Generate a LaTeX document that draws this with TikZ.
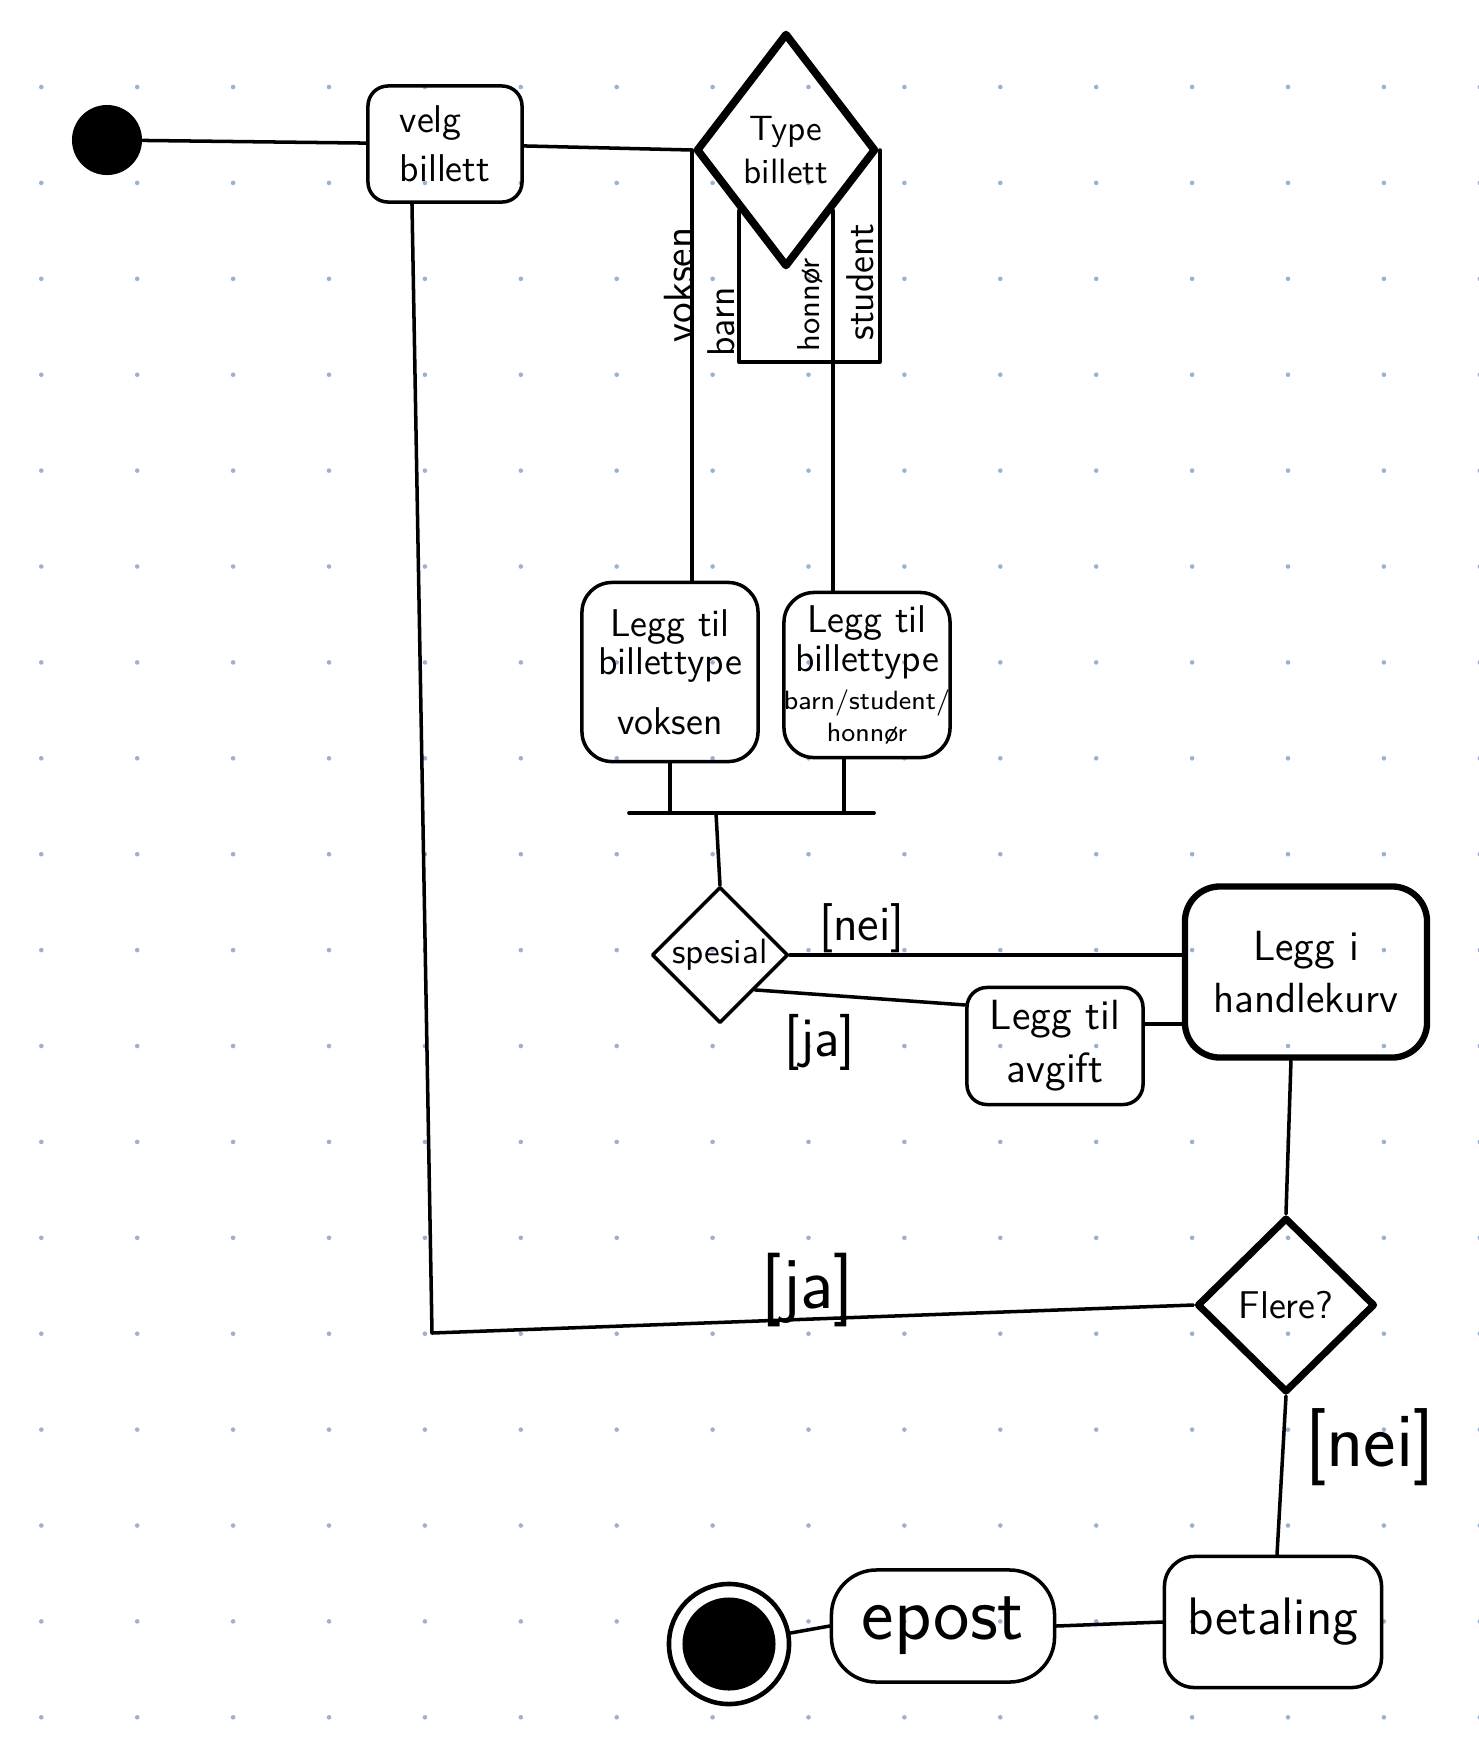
\documentclass[tikz,border=0pt]{standalone}
\usepackage{amsmath}
\usepackage{xcolor}
\usepackage{tikz}
\usetikzlibrary{shapes.geometric}
\definecolor{griddot}{HTML}{9DB0D3}
\newcommand{\handsz}[2]{\sffamily\fontsize{#1}{#2}\selectfont}

\begin{document}
\begin{tikzpicture}[x=0.01cm,y=-0.01cm,line cap=round,line join=round,
  flow/.style={line width=1pt},
  startdot/.style={circle,fill=black,minimum size=0.70cm,inner sep=0pt},
  enddot/.style={circle,draw,line width=1.3pt,minimum size=1.2cm,inner sep=0pt},
  act/.style={draw,line width=1pt,rounded corners=0.2cm,align=center,inner sep=0pt},
  bigact/.style={act,line width=1.8pt,rounded corners=0.35cm},
  choice/.style={diamond,draw,line width=1pt,inner sep=0pt,align=center},
  bigchoice/.style={choice,line width=2.2pt},
  branch/.style={rotate=90,inner sep=1pt},
  guard/.style={inner sep=1pt}]
% paper with dot grid
  \fill[white] (0,0) rectangle (1479,1756);
  \useasboundingbox (0,0) rectangle (1479,1756);
  \foreach \i in {0,...,15} {
    \foreach \j in {0,...,17} {
      \fill[griddot] (41.3+95.9*\i,87+95.9*\j) circle[radius=0.023cm];
    }
  }
% activities and choices
  \node[startdot] (start) at (107,140) {};
  \node[act,align=left,minimum width=1.54cm,minimum height=1.16cm,font=\handsz{11}{14}] (velg) at (445,144) {velg\\billett};
  \node[bigchoice,minimum width=1.80cm,minimum height=2.34cm,font=\handsz{10}{12}] (type) at (786,150) {Type\\billett};
  \node[act,rounded corners=0.3cm,minimum width=1.76cm,minimum height=1.79cm,font=\handsz{11}{11}] (vok) at (670,672) {Legg til\\billettype\\[6pt]voksen};
  \node[act,rounded corners=0.3cm,minimum width=1.66cm,minimum height=1.65cm,font=\handsz{11}{11}] (hon) at (867,675)
    {Legg til\\billettype\\{\handsz{7.5}{9}barn/student/}\\[-2pt]{\handsz{7.5}{9}honnør}};
  \node[choice,minimum width=1.36cm,minimum height=1.36cm,font=\handsz{10}{12}] (spes) at (720,955) {spesial};
  \node[act,minimum width=1.76cm,minimum height=1.17cm,font=\handsz{12}{15}] (avg) at (1055,1046) {Legg til\\avgift};
  \node[bigact,minimum width=2.42cm,minimum height=1.71cm,font=\handsz{12}{15}] (kurv) at (1306,972) {Legg i\\handlekurv};
  \node[bigchoice,line width=2pt,minimum width=1.78cm,minimum height=1.75cm,font=\handsz{11}{13}] (flere) at (1286,1305) {Flere?};
  \node[act,rounded corners=0.3cm,minimum width=2.17cm,minimum height=1.31cm,font=\handsz{15}{18}] (bet) at (1273,1622) {betaling};
  \node[act,rounded corners=0.45cm,minimum width=2.23cm,minimum height=1.12cm,font=\handsz{22}{24}] (epost) at (943,1626) {epost};
  \node[enddot] (stop) at (729,1644) {};
  \fill (stop.center) circle[radius=0.465cm];
% branch labels
  \node[branch,font=\handsz{12}{12}] (lvoksen) at (679,285) {voksen};
  \node[branch,font=\handsz{11}{11}] (lbarn) at (721,322) {barn};
  \node[branch,font=\handsz{9}{9}] (lhonnor) at (810,305) {honnør};
  \node[branch,font=\handsz{11}{11}] (lstudent) at (860,282) {student};
  \node[guard,font=\handsz{14}{14}] (neiA) at (862,928) {[nei]};
  \node[guard,font=\handsz{16}{16}] (jaA) at (820,1042) {[ja]};
  \node[guard,font=\handsz{21}{21}] (jaB) at (808,1290) {[ja]};
  \node[guard,font=\handsz{22}{22}] (neiB) at (1370,1447) {[nei]};
% connectors
  \coordinate (bar) at (716,813);
  \coordinate (loop) at (432,1333);
  \path (type.east) ++(0,212) coordinate (fork);
  \draw[flow] (start) -- (velg);
  \draw[flow] (velg) -- (type.west);
  \draw[flow] (type.west) -- (type.west |- vok.north);
  \draw[flow] (type.south west) |- (fork) -- (type.east);
  \draw[flow] (type.south east) -- (type.south east |- hon.north);
  \draw[flow] ([xshift=-0.87cm]bar) -- ([xshift=1.58cm]bar);
  \draw[flow] (vok.south) -- (vok.south |- bar);
  \draw[flow] ([xshift=-0.23cm]hon.south) -- ([xshift=-0.23cm]hon.south |- bar);
  \draw[flow] (bar) -- (spes.north);
  \draw[flow] (spes.east) -- (spes.east -| kurv.west);
  \draw[flow] (spes.south east) -- ([yshift=0.41cm]avg.west);
  \draw[flow] ([yshift=0.22cm]avg.east) -- ([yshift=0.22cm]avg.east -| kurv.west);
  \draw[flow] ([xshift=-0.15cm]kurv.south) -- (flere.north);
  \draw[flow] (flere.west) -- (loop) -- ([xshift=-0.33cm]velg.south);
  \draw[flow] (flere.south) -- ([xshift=0.04cm]bet.north);
  \draw[flow] (bet.west) -- (epost.east);
  \draw[flow] (stop) -- (epost.west);
\end{tikzpicture}
\end{document}
